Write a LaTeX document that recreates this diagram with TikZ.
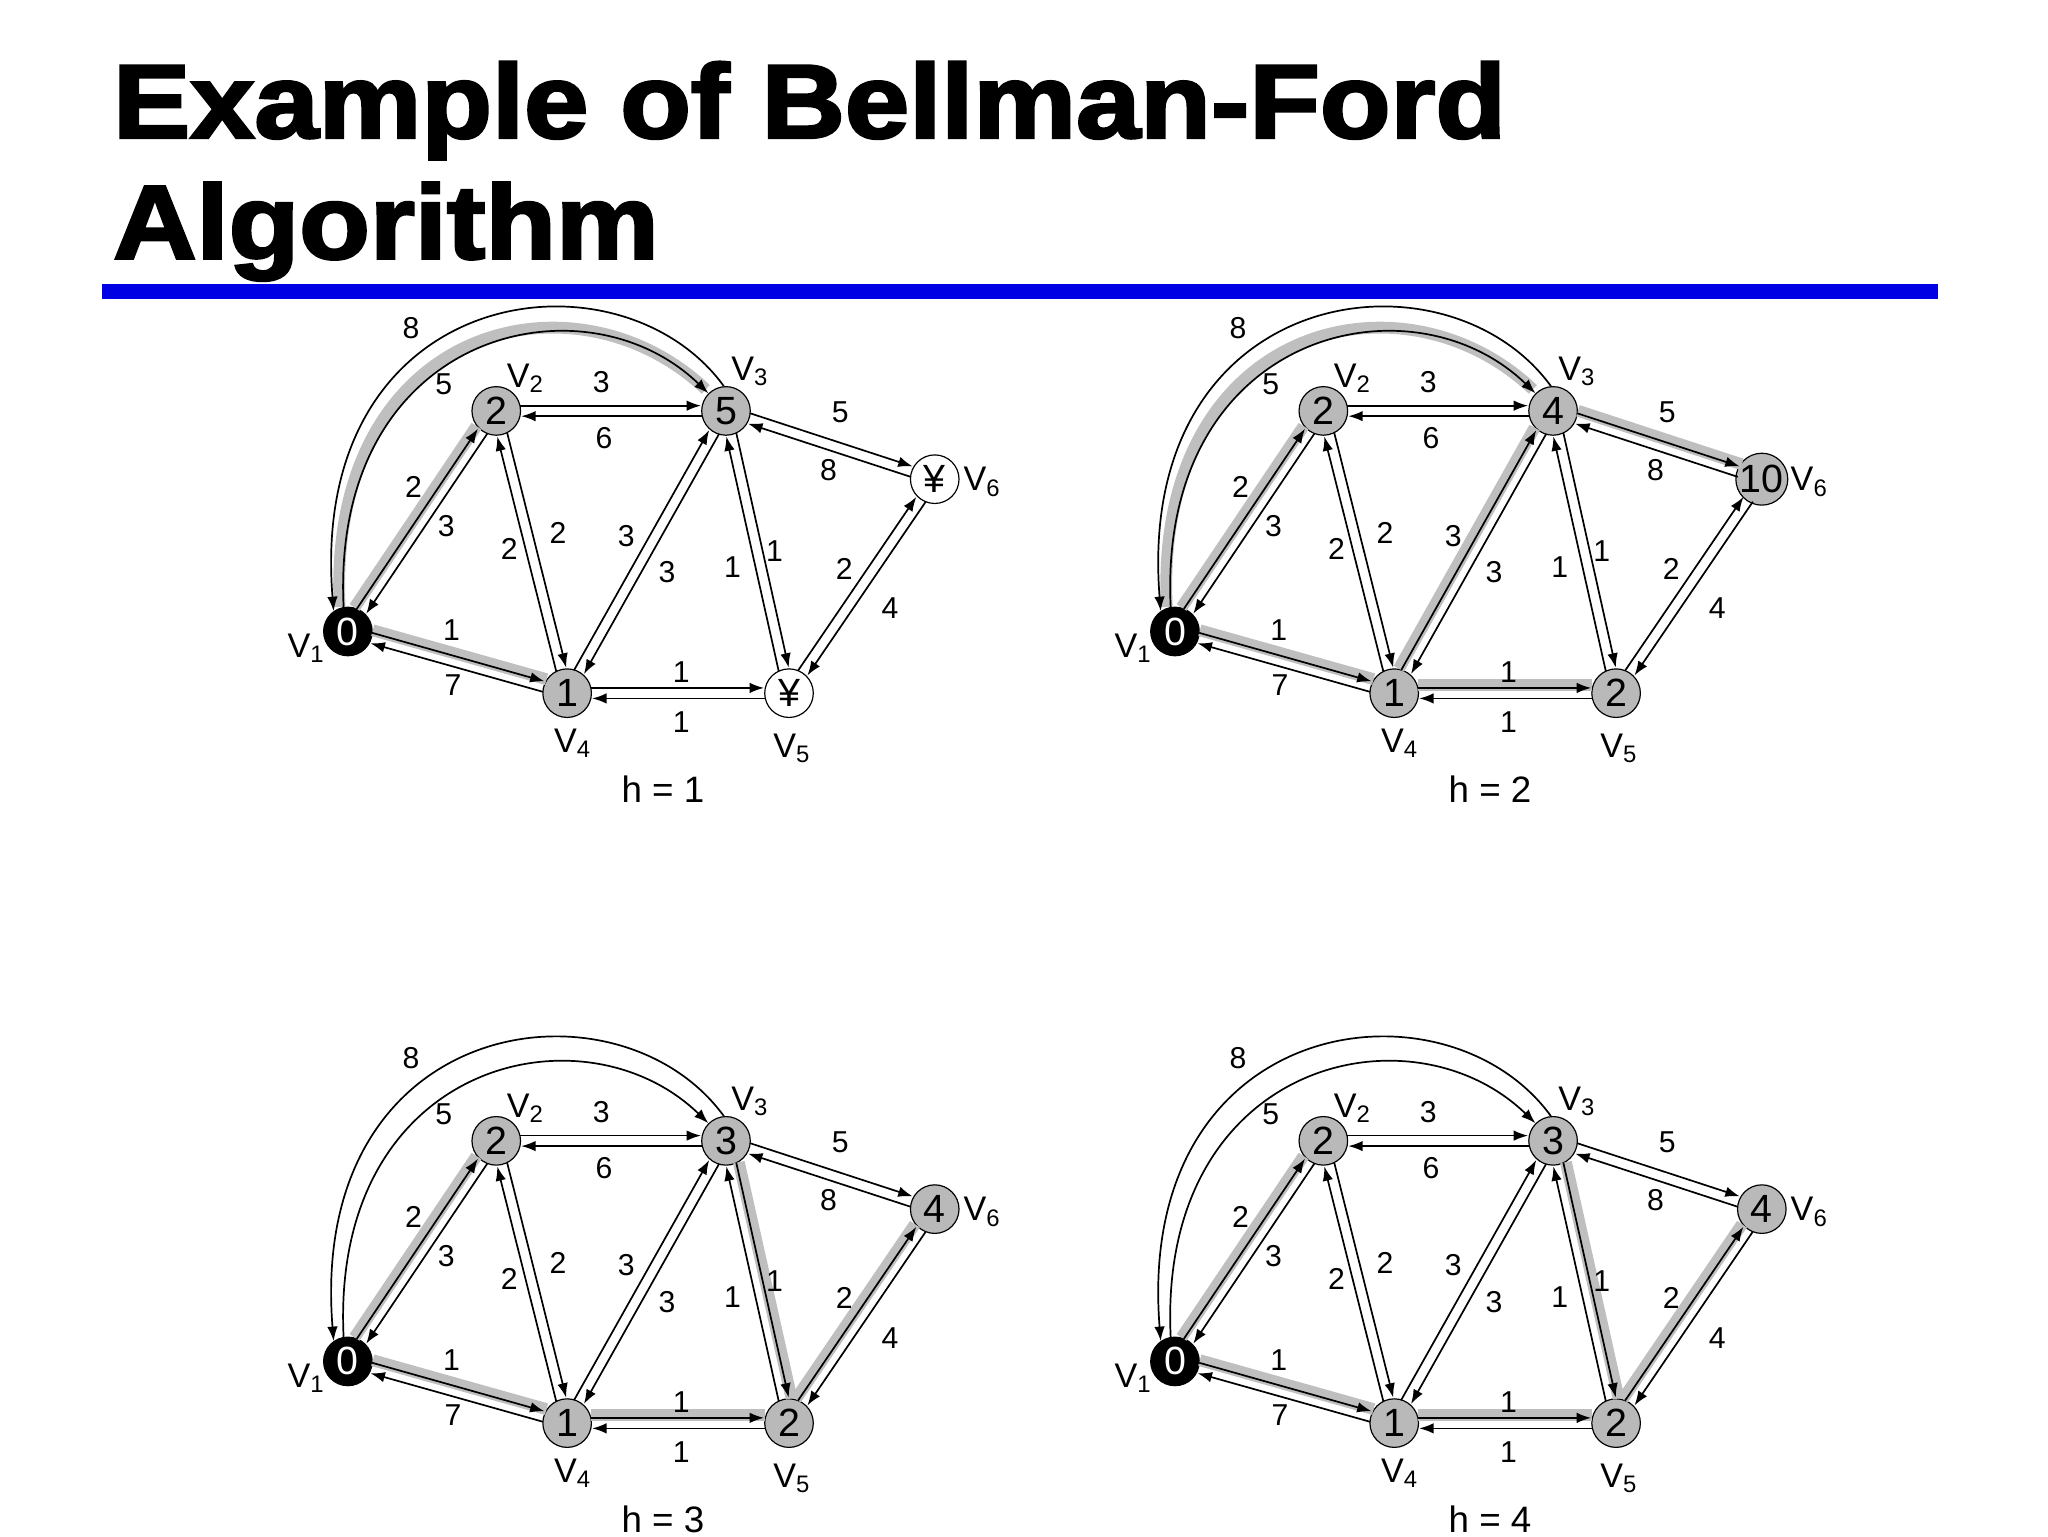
\documentclass[tikz,border=0pt]{standalone}
\usepackage{fontspec}
\setmainfont{Liberation Sans}
\newfontfamily\titlefont{Liberation Sans}[BoldFeatures={FakeBold=2.5}]
\usetikzlibrary{arrows.meta,calc}
\tikzset{
  vx/.style={circle,draw,line width=0.9pt,minimum size=37pt,inner sep=0pt,fill=gray!55,font=\fontsize{30}{30}\selectfont},
  src/.style={vx,fill=black,text=white},
  unk/.style={vx,fill=white},
  tip/.style={-{Latex[length=11pt,width=8pt]}},
  ed/.style={tip,line width=1.3pt,shorten <=18pt,shorten >=19pt},
  hl/.style={line width=9pt,gray!50,shorten <=18pt,shorten >=18pt},
  lb/.style={font=\fontsize{23}{23}\selectfont,inner sep=0pt},
  vl/.style={font=\fontsize{26}{26}\selectfont,inner sep=0pt},
}
\newcommand\de[3]{\draw[ed] ($(#1#2)!4pt!90:(#1#3)$) -- ($(#1#3)!4pt!-90:(#1#2)$);}
\newcommand\hle[3]{\draw[hl] ($(#1#2)!6pt!90:(#1#3)$) -- ($(#1#3)!6pt!-90:(#1#2)$);}
\newcommand\panel[9]{%
\begin{scope}[shift={(#2,#3)}]
 \node[src] (#1v1) at (265,481) {0};
 \node[vx] (#1v2) at (378,313) {2};
 \node[vx] (#1v3) at (553,313) {#4};
 \node[vx] (#1v4) at (432,528) {1};
 \node[#7] (#1v5) at (601,528) {#5};
 \node[#8] (#1v6) at (712,365) {#6};
 \ifnum\arcflag=1
 \draw[line width=9pt,gray!50] ($(#1v1.100)+(-3,0)$) .. controls +(-10,-215) and +(-100,-95) .. ($(#1v3.135)+(-2,-3)$);
 \fi
 \foreach \a/\b in \hllist {\hle{#1}{v\a}{v\b}}
 \draw[tip,line width=1.3pt] (#1v1.100) .. controls +(-10,-210) and +(-95,-92) .. (#1v3.135);
 \draw[tip,line width=1.3pt] (#1v3.95) .. controls +(-80,-110) and +(-20,-250) .. (#1v1.125);
 \de{#1}{v1}{v2}\de{#1}{v2}{v1}
 \de{#1}{v2}{v3}\de{#1}{v3}{v2}
 \de{#1}{v3}{v6}\de{#1}{v6}{v3}
 \de{#1}{v2}{v4}\de{#1}{v4}{v2}
 \de{#1}{v4}{v3}\de{#1}{v3}{v4}
 \de{#1}{v3}{v5}\de{#1}{v5}{v3}
 \de{#1}{v5}{v6}\de{#1}{v6}{v5}
 \de{#1}{v1}{v4}\de{#1}{v4}{v1}
 \de{#1}{v4}{v5}\de{#1}{v5}{v4}
 \node[lb] (#1w1) at (313,250) {8};
 \node[lb] (#1w2) at (338,293) {5};
 \node[lb] (#1w3) at (458,291) {3};
 \node[lb] (#1w4) at (460,334) {6};
 \node[lb] (#1w5) at (640,314) {5};
 \node[lb] (#1w6) at (631,358) {8};
 \node[lb] (#1w7) at (315,371) {2};
 \node[lb] (#1w8) at (340,401) {3};
 \node[lb] (#1w9) at (388,418) {2};
 \node[lb] (#1w10) at (425,406) {2};
 \node[lb] (#1w11) at (477,408) {3};
 \node[lb] (#1w12) at (508,436) {3};
 \node[lb] (#1w13) at (558,432) {1};
 \node[lb] (#1w14) at (590,420) {1};
 \node[lb] (#1w15) at (643,433) {2};
 \node[lb] (#1w16) at (678,463) {4};
 \node[lb] (#1w17) at (344,480) {1};
 \node[lb] (#1w18) at (345,522) {7};
 \node[lb] (#1w19) at (519,512) {1};
 \node[lb] (#1w20) at (519,550) {1};
 \node[vl] (#1n1) at (233,494) {V\textsubscript{1}};
 \node[vl] (#1n2) at (400,288) {V\textsubscript{2}};
 \node[vl] (#1n3) at (571,283) {V\textsubscript{3}};
 \node[vl] (#1n4) at (436,566) {V\textsubscript{4}};
 \node[vl] (#1n5) at (603,570) {V\textsubscript{5}};
 \node[vl] (#1n6) at (748,367) {V\textsubscript{6}};
 \node[font=\fontsize{28}{28}\selectfont] (#1h) at (505,601) {h = #9};
\end{scope}}
\begin{document}
\begin{tikzpicture}[x=1pt,y=-1pt]
\useasboundingbox (0,0) rectangle (1560,1170);
\node[anchor=base west,inner sep=0pt,xscale=1.1,font=\fontsize{80}{80}\selectfont\titlefont\bfseries] (t1) at (86,105) {Example of Bellman-Ford};
\node[anchor=base west,inner sep=0pt,xscale=1.1,font=\fontsize{80}{80}\selectfont\titlefont\bfseries] (t2) at (86,197) {Algorithm};
\fill[blue!90!black] (78,216) rectangle (1476,228);
\def\arcflag{1}\def\hllist{1/2,1/4}
\panel{a}{0}{0}{5}{¥}{¥}{unk}{unk}{1}
\def\arcflag{1}\def\hllist{1/2,1/4,4/5,4/3,3/6}
\panel{b}{630}{0}{4}{2}{10}{vx}{vx}{2}
\def\arcflag{0}\def\hllist{1/2,1/4,4/5,3/5,5/6}
\panel{c}{0}{556}{3}{2}{4}{vx}{vx}{3}
\panel{d}{630}{556}{3}{2}{4}{vx}{vx}{4}
\end{tikzpicture}
\end{document}
